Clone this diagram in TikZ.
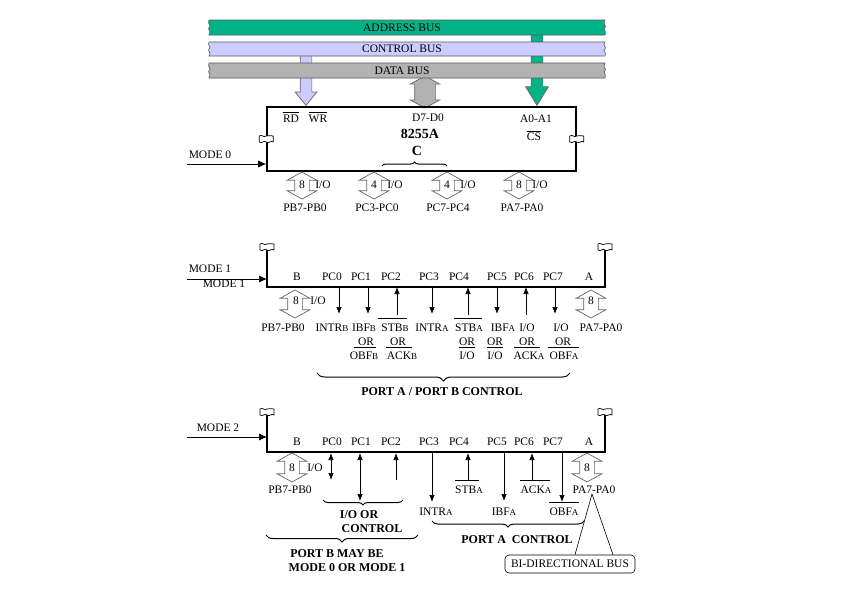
\documentclass[tikz,border=0pt]{standalone}
\usepackage{fontspec}
\setmainfont{Liberation Serif}
\usetikzlibrary{arrows.meta,shapes.arrows,decorations.pathreplacing}
\definecolor{addrgreen}{HTML}{00B386}
\definecolor{ctrlblue}{HTML}{CCCCFF}
\definecolor{datagray}{HTML}{B2B2B2}
\newcommand{\sm}[1]{{\fontsize{9}{10}\selectfont #1}}
\tikzset{
	lbl/.style={inner sep=0pt,font=\fontsize{11.5}{13}\selectfont},
	boldlbl/.style={inner sep=0pt,font=\fontsize{12}{14}\selectfont\bfseries},
	rail/.style={line width=1.6pt},
	sig/.style={line width=0.7pt,-{Latex[length=7pt,width=5.5pt]}},
	sigboth/.style={line width=0.7pt,{Latex[length=7pt,width=5.5pt]}-{Latex[length=7pt,width=5.5pt]}},
	bar/.style={line width=0.6pt},
	curly/.style={line width=1pt,decorate,decoration={brace,amplitude=#1}},
	fatdouble/.style={double arrow,draw=black!60,line width=0.7pt,fill=white,rotate=90,inner sep=7pt,
		double arrow head extend=7.5pt,double arrow tip angle=122,double arrow head indent=0pt,minimum height=28pt},
	fatdown/.style={single arrow,rotate=-90,line width=0.7pt,single arrow head indent=0pt,anchor=tip},
	pics/breakflag/.style={code={
		\draw[fill=white,line width=0.7pt] (-7,-3) .. controls (-4,-5) and (-3,-1) .. (0,-3) .. controls (3,-5) and (4,-2) .. (7,-3)
			-- (7,3) .. controls (4,1) and (3,5) .. (0,3) .. controls (-3,1) and (-4,5) .. (-7,3) -- cycle;
	}}
}
\begin{document}
\begin{tikzpicture}[x=1pt,y=-1pt]
	\useasboundingbox (0,0) rectangle (863,595);

	% arrows from the buses, the buses go over them
	\node[fatdown,draw=black!60,fill=ctrlblue,inner sep=5.5pt,single arrow head extend=5pt,single arrow tip angle=78,minimum height=50pt] (ctrlarrow) at (306,106) {};
	\node[fatdown,draw=black!60,fill=addrgreen,inner sep=5.5pt,single arrow head extend=5.5pt,single arrow tip angle=63,minimum height=71pt] (addrarrow) at (537,106) {};
	\node[fatdouble,fill=datagray,inner sep=10pt,double arrow head extend=4.5pt,minimum height=28pt] (dataarrow) at (425,92) {};

	% buses
	\foreach \name/\col/\ya/\yb/\ym in {ADDRESS/addrgreen/20/35/27.5,CONTROL/ctrlblue/42/56/49,DATA/datagray/63/78/70.5}{
		\draw[fill=\col,line width=0.6pt,draw=black!65] (209,\ya) .. controls (207,\ym-3) and (212,\ym-2) .. (209,\ym) .. controls (207,\ym+2) and (212,\ym+3) .. (209,\yb)
			-- (605,\yb) .. controls (607,\ym+3) and (602,\ym+2) .. (605,\ym) .. controls (607,\ym-2) and (602,\ym-3) .. (605,\ya) -- cycle;
		\node[lbl] at (402,\ym) {\name\ BUS};
	}

	% MODE 0
	\node[draw,rail,minimum width=309pt,minimum height=64pt,inner sep=0pt] (chip) at (421.5,139) {};
	\pic at (chip.west) {breakflag};
	\pic at (chip.east) {breakflag};
	\node[lbl] (rd) at (291,119) {RD};
	\node[lbl] (wr) at (318,119) {WR};
	\node[lbl] (cs) at (534,137) {CS};
	\draw[bar] ([yshift=3pt]rd.north west) -- ([yshift=3pt]rd.north east);
	\draw[bar] ([yshift=3pt]wr.north west) -- ([yshift=3pt]wr.north east);
	\draw[bar] ([yshift=2pt]cs.north west) -- ([yshift=2pt]cs.north east);
	\node[lbl] (d7d0) at (428,118) {D7-D0};
	\node[lbl] (a0a1) at (536,119) {A0-A1};
	\node[boldlbl,font=\fontsize{14}{16}\selectfont\bfseries] (chipname) at (420,134) {8255A};
	\node[boldlbl,font=\fontsize{14}{16}\selectfont\bfseries] (portc) at (417,151) {C};
	\draw[curly=4pt] (382,166) -- (447,166);
	\node[lbl] (mode0) at (210,155) {MODE 0};
	\coordinate (mode0in) at (187,164);
	\draw[sig,-{Latex[length=8pt,width=7pt]}] (mode0in) -- (mode0in -| chip.west);
	\foreach \id/\x/\num/\txt/\lx in {pb/302/8/PB7-PB0/305,pcl/374/4/PC3-PC0/377,pch/447/4/PC7-PC4/448,pa/519/8/PA7-PA0/522}{
		\node[fatdouble,minimum height=27pt] (zero\id) at (\x,185.5) {};
		\node[lbl] (zeronum\id) at (\x,185) {\num};
		\node[lbl] (zeroio\id) at (\x+21,185) {I/O};
		\node[lbl] (zerolbl\id) at (\lx,208) {\txt};
	}

	% MODE 1
	\draw[rail] (267,248) -- (267,287) -- (605,287) -- (605,248);
	\pic at (267,247) {breakflag};
	\pic at (605,247) {breakflag};
	\node[lbl] (mode1a) at (210,269) {MODE 1};
	\node[lbl] (mode1b) at (224,284) {MODE 1};
	\coordinate (mode1in) at (187,279);
	\coordinate (mode1rail) at (267,279);
	\draw[sig,-{Latex[length=8pt,width=7pt]}] (mode1in) -- (mode1rail);
	\foreach \name/\x in {B/297,PC0/332,PC1/361,PC2/391,PC3/429,PC4/459,PC5/497,PC6/524,PC7/553,A/589}{
		\node[lbl] (one\name) at (\x,277) {\name};
	}
	\node[fatdouble] (onepb) at (295,304) {};
	\node[lbl] (onepbnum) at (296,301) {8};
	\node[lbl] (onepbio) at (318,301) {I/O};
	\node[fatdouble] (onepa) at (591,304) {};
	\node[lbl] (onepanum) at (591,301) {8};
	\foreach \x/\a/\b in {339/287/314,368/287/314,397/315/287,432/287/314,468/315/287,497/287/314,526/315/287,555/287/314}{
		\coordinate (onefrom\x) at (\x,\a);
		\coordinate (oneto\x) at (\x,\b);
		\draw[sig] (onefrom\x) -- (oneto\x);
	}
	\node[lbl] (oneltpb) at (283,328) {PB7-PB0};
	\node[lbl] (oneltintrb) at (332,328) {INTR\sm{B}};
	\node[lbl] (oneltibfb) at (364,328) {IBF\sm{B}};
	\node[lbl] (oneltstbb) at (395,328) {STB\sm{B}};
	\node[lbl] (oneltintra) at (432,328) {INTR\sm{A}};
	\node[lbl] (oneltstba) at (469,328) {STB\sm{A}};
	\node[lbl] (oneltibfa) at (503,328) {IBF\sm{A}};
	\node[lbl] (onelti) at (527,328) {I/O};
	\node[lbl] (oneltj) at (561,328) {I/O};
	\node[lbl] (oneltpa) at (601,328) {PA7-PA0};
	\foreach \x/\a/\b in {366/354/376,398/386/412,467/459/475,495/487/503,527/514/540,563/548/579}{
		\node[lbl] (oneor\x) at (\x,342) {OR};
		\coordinate (oneorl\x) at (\a,347.5);
		\coordinate (oneorr\x) at (\b,347.5);
		\draw[bar] (oneorl\x) -- (oneorr\x);
	}
	\node[lbl] (onerowa) at (364,356) {OBF\sm{B}};
	\node[lbl] (onerowb) at (402,356) {ACK\sm{B}};
	\node[lbl] (onerowc) at (467,356) {I/O};
	\node[lbl] (onerowd) at (495,356) {I/O};
	\node[lbl] (onerowe) at (529,356) {ACK\sm{A}};
	\node[lbl] (onerowf) at (564,356) {OBF\sm{A}};
	\draw[bar] (378,318) -- (407,318);
	\draw[bar] (454,318) -- (482,318);
	\draw[curly=8pt,decoration={mirror}] (317,373) -- (570,373);
	\node[boldlbl] (onectl) at (442,392) {PORT A / PORT B CONTROL};

	% MODE 2
	\draw[rail] (267,413) -- (267,452) -- (605,452) -- (605,413);
	\pic at (267,412) {breakflag};
	\pic at (605,412) {breakflag};
	\node[lbl] (mode2) at (218,428) {MODE 2};
	\coordinate (mode2in) at (187,437);
	\coordinate (mode2rail) at (267,437);
	\draw[sig,-{Latex[length=8pt,width=7pt]}] (mode2in) -- (mode2rail);
	\foreach \name/\x in {B/297,PC0/332,PC1/361,PC2/391,PC3/429,PC4/459,PC5/497,PC6/524,PC7/553,A/589}{
		\node[lbl] (two\name) at (\x,442) {\name};
	}
	\node[fatdouble,minimum height=29pt] (twopb) at (292,467.5) {};
	\node[lbl] (twopbnum) at (292,468) {8};
	\node[lbl] (twopbio) at (315,468) {I/O};
	\node[fatdouble,minimum height=29pt] (twopa) at (587,467.5) {};
	\node[lbl] (twopanum) at (587,468) {8};
	\node[lbl] (twoltpb) at (290,490) {PB7-PB0};
	\node[lbl] (twoltpa) at (594,490) {PA7-PA0};
	\coordinate (twoa) at (331,453);
	\coordinate (twob) at (331,480);
	\coordinate (twoc) at (360,453);
	\coordinate (twod) at (360,501);
	\draw[sigboth] (twoa) -- (twob);
	\draw[sigboth] (twoc) -- (twod);
	\foreach \x/\a/\b in {396/480/453,432/452/502,468/480/453,504/452/501,532/480/453,562/452/502}{
		\coordinate (twofrom\x) at (\x,\a);
		\coordinate (twoto\x) at (\x,\b);
		\draw[sig] (twofrom\x) -- (twoto\x);
	}
	\draw[bar] (455,480) -- (479,480);
	\draw[bar] (520,480) -- (550,480);
	\draw[bar] (549,502.5) -- (579,502.5);
	\node[lbl] (twostb) at (469,490) {STB\sm{A}};
	\node[lbl] (twoack) at (536,490) {ACK\sm{A}};
	\node[lbl] (twointr) at (436,512) {INTR\sm{A}};
	\node[lbl] (twoibf) at (504,512) {IBF\sm{A}};
	\node[lbl] (twoobf) at (564,512) {OBF\sm{A}};
	\draw[curly=5pt,decoration={mirror}] (323,500) -- (403,500);
	\node[boldlbl] (twoioor) at (359,515) {I/O OR};
	\node[boldlbl] (twoctl) at (372,529) {CONTROL};
	\draw[curly=7pt,decoration={mirror,aspect=0.5}] (266,535) -- (418,535);
	\node[boldlbl] (twopbm) at (337,554) {PORT B MAY BE};
	\node[boldlbl] (twomode) at (347,568) {MODE 0 OR MODE 1};
	\draw[curly=6pt,decoration={mirror,aspect=0.5}] (432,521) -- (584,521);
	\node[boldlbl] (twopac) at (517,540) {PORT A\ \ CONTROL};

	\node[lbl,draw,rounded corners=4pt,line width=0.6pt,minimum width=130pt,minimum height=18pt,fill=white] (bidir) at (570,564) {BI-DIRECTIONAL BUS};
	\coordinate (leadtop) at (592,494);
	\draw[bar] (leadtop) -- ([xshift=5pt]bidir.north);
	\draw[bar] (leadtop) -- ([xshift=43pt]bidir.north);
\end{tikzpicture}
\end{document}
